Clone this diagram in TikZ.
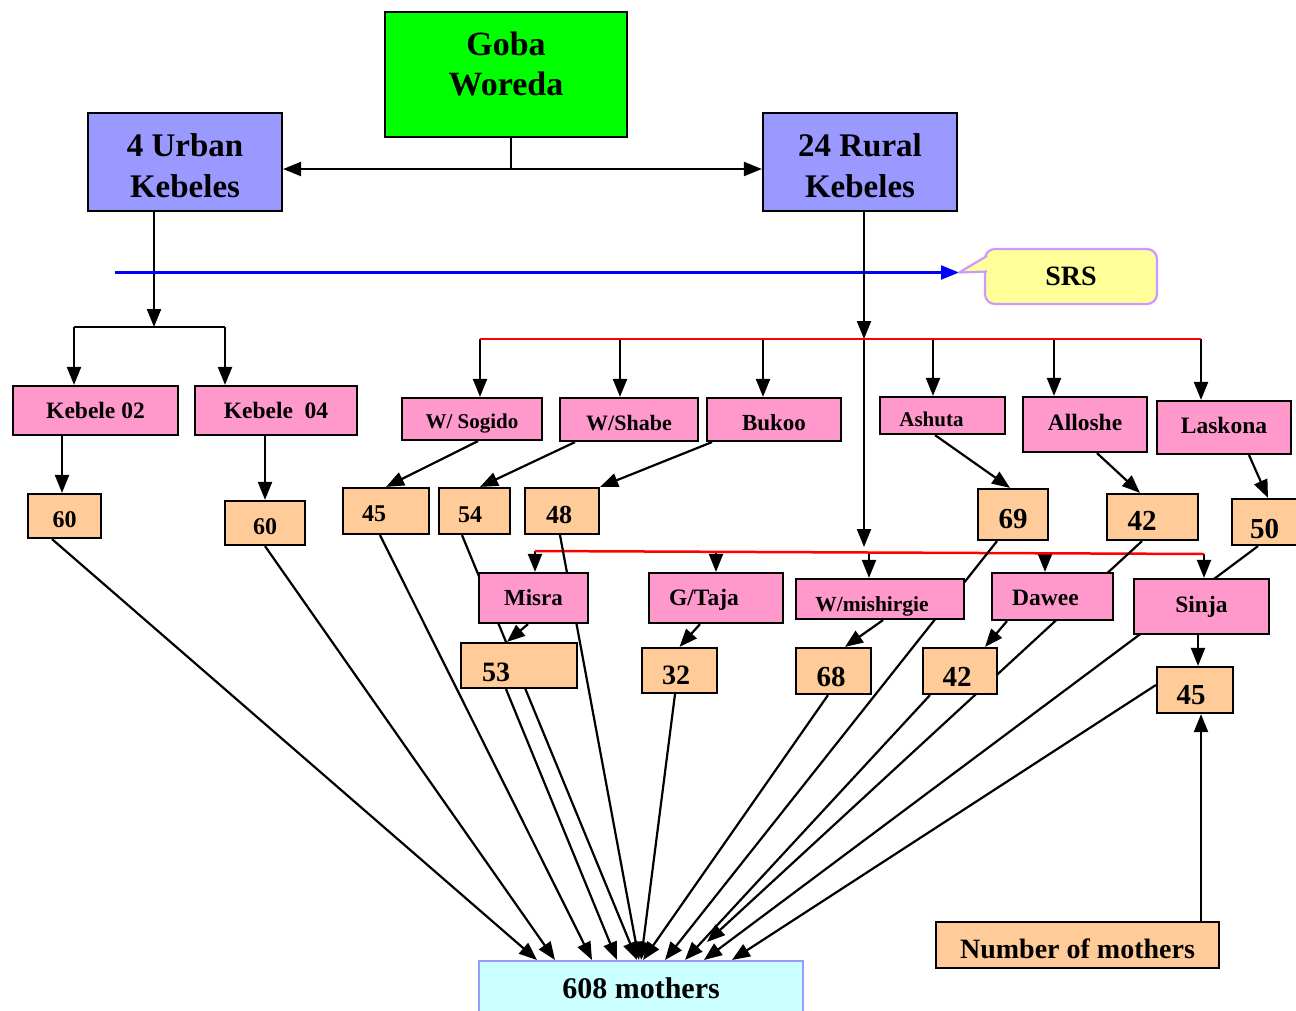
\documentclass[tikz,border=0pt]{standalone}
\usepackage{fontspec}
\setmainfont{Liberation Serif}
\usetikzlibrary{arrows.meta,calc,backgrounds}
\definecolor{pinkf}{HTML}{FF99CC}
\definecolor{peach}{HTML}{FFCC99}
\definecolor{lav}{HTML}{9999FF}
\definecolor{gobagreen}{HTML}{00FF00}
\definecolor{srsfill}{HTML}{FFFF99}
\definecolor{srsline}{HTML}{CC99FF}
\definecolor{cyanf}{HTML}{CCFFFF}
\newcommand\fz[2]{\fontsize{#1pt}{#2pt}\selectfont\bfseries}
\tikzset{
  Tri/.tip={Triangle[length=18pt,width=14pt]},
  box/.style={rectangle, draw=black, line width=2.2pt, inner sep=0pt, text=black},
  pinkbox/.style={box, fill=pinkf},
  numbox/.style={box, fill=peach},
  bluebox/.style={box, fill=lav},
  wh/.style 2 args={minimum width=#1pt, minimum height=#2pt},
  bl/.style 2 args={text height=#1pt, text depth=#2pt},
  ln/.style={draw=black, line width=2.2pt},
  arr/.style={ln, -Tri},
  redln/.style={draw=red, line width=2.5pt},
}
\begin{document}
\begin{tikzpicture}[x=1pt,y=-1pt]
\useasboundingbox (0,0) rectangle (1296,1010);

% ---------- nodes ----------
\node[box, fill=gobagreen, wh={242}{125}, align=center, font=\fz{34}{40}] (goba) at (506,74.5) {Goba\\Woreda\rule[-22pt]{0pt}{22pt}};
\node[bluebox, wh={194}{98}, align=center, font=\fz{33}{41}] (urban) at (185,162) {\rule{0pt}{30pt}4 Urban\\Kebeles};
\node[bluebox, wh={194}{98}, align=center, font=\fz{33}{41}] (rural) at (860,162) {\rule{0pt}{30pt}24 Rural\\Kebeles};
\node[rectangle, draw=srsline, fill=srsfill, line width=2.2pt, rounded corners=10pt, wh={172}{55}, inner sep=0pt, font=\fz{28}{32}, bl={17}{0}] (srs) at (1071,276.5) {SRS};
\coordinate (srstip) at (959,272.5);
\fill[srsfill] (988.5,256) -- (srstip) -- (988.5,271.5) -- cycle;
\draw[srsline, line width=2.2pt, line join=round] (987,256) -- (srstip) -- (987,271.5);

\node[pinkbox, wh={165}{49}, font=\fz{23.5}{28}, bl={15}{0}] (k02) at (95.5,410.5) {Kebele 02};
\node[pinkbox, wh={162}{49}, font=\fz{23.5}{28}, bl={15}{0}] (k04) at (276,410.5) {Kebele\ \ 04};
\node[numbox, wh={73}{44}, font=\fz{24}{28}, bl={22}{0}] (n60a) at (64.5,516) {60};
\node[numbox, wh={80}{44}, font=\fz{24}{28}, bl={22}{0}] (n60b) at (265,523) {60};

\node[pinkbox, wh={140}{42}, font=\fz{21}{25}, bl={18}{0}] (sogido) at (472,419) {W/ Sogido};
\node[pinkbox, wh={138}{43}, font=\fz{22}{26}, bl={21}{0}] (shabe) at (629,419.5) {W/Shabe};
\node[pinkbox, wh={134}{43}, font=\fz{23}{27}, bl={21}{0}] (bukoo) at (774,419.5) {Bukoo};
\node[pinkbox, wh={125}{37}, font=\fz{21}{25}, bl={21}{0}] (ashuta) at (942.5,415.5) {Ashuta\hspace*{22pt}};
\node[pinkbox, wh={124}{55}, font=\fz{23.5}{28}, bl={11}{0}] (alloshe) at (1085,424.5) {Alloshe};
\node[pinkbox, wh={134}{53}, font=\fz{23.5}{28}, bl={11}{0}] (laskona) at (1224,427.5) {Laskona};

\node[numbox, wh={86}{46}, font=\fz{24}{28}, bl={20}{0}] (n45) at (386,511) {45\hspace*{24pt}};
\node[numbox, wh={71}{46}, font=\fz{24}{28}, bl={22}{0}] (n54) at (474.5,511) {54\hspace*{9pt}};
\node[numbox, wh={74}{46}, font=\fz{26}{30}, bl={24}{0}] (n48) at (562,511) {48\hspace*{6pt}};
\node[numbox, wh={70}{51}, font=\fz{29}{33}, bl={27}{0}] (n69) at (1013,514.5) {69};
\node[numbox, wh={91}{46}, font=\fz{29}{33}, bl={26}{0}] (n42a) at (1152.5,517) {42\hspace*{21pt}};
\node[numbox, wh={65}{46}, font=\fz{29}{33}, bl={32}{0}] (n50) at (1264.5,522) {50};

\node[pinkbox, wh={109}{50}, font=\fz{23}{27}, bl={14}{0}] (misra) at (533.5,598) {Misra};
\node[pinkbox, wh={134}{50}, font=\fz{23.5}{28}, bl={14}{0}] (gtaja) at (716,598) {G/Taja\hspace*{24pt}};
\node[pinkbox, wh={168}{40}, font=\fz{21.5}{26}, bl={24}{0}] (wmish) at (880,599) {W/mishirgie\hspace*{16pt}};
\node[pinkbox, wh={121}{47}, font=\fz{23.5}{28}, bl={17}{0}] (dawee) at (1052.5,596.5) {Dawee\hspace*{14pt}};
\node[pinkbox, wh={135}{55}, font=\fz{23.5}{28}, bl={11}{0}] (sinja) at (1201.5,606.5) {Sinja};

\node[numbox, wh={116}{45}, font=\fz{28}{32}, bl={31}{0}] (n53) at (519,665.5) {53\hspace*{46pt}};
\node[numbox, wh={75}{45}, font=\fz{28}{32}, bl={27}{0}] (n32) at (679.5,670.5) {32\hspace*{7pt}};
\node[numbox, wh={75}{46}, font=\fz{29}{33}, bl={30}{0}] (n68) at (833.5,671) {68\hspace*{5pt}};
\node[numbox, wh={74}{46}, font=\fz{29}{33}, bl={30}{0}] (n42b) at (960,671) {42\hspace*{6pt}};
\node[numbox, wh={76}{46}, font=\fz{29}{33}, bl={28}{0}] (n45b) at (1195,690) {45\hspace*{8pt}};

\node[numbox, wh={283}{46}, font=\fz{28}{32}, bl={26}{0}] (nmoth) at (1077.5,945) {Number of mothers};
\node[box, draw=lav, fill=cyanf, line width=2pt, wh={324}{69}, font=\fz{30}{34}, bl={5}{0}] (total) at (641,995.5) {608 mothers};

% ---------- connectors (behind the boxes) ----------
\begin{pgfonlayer}{background}
\fill[white] (0,0) rectangle (1296,1010);

\coordinate (gj) at (511,169);
\draw[ln] (goba.south -| gj) -- (gj);
\draw[ln, Tri-Tri] (urban.east |- gj) -- (rural.west |- gj);

\coordinate (ub) at (154,327);
\coordinate (kbl) at (74,327);
\coordinate (kbr) at (225,327);
\draw[arr] (urban.south -| ub) -- (ub);
\draw[ln] (kbl) -- (kbr);
\draw[arr] (kbl) -- (kbl |- k02.north);
\draw[arr] (kbr) -- (kbr |- k04.north);

\coordinate (bs) at (115,272.5);
\draw[draw=blue, line width=2.2pt, -Tri] (bs) -- (srstip);

\coordinate (rj) at (864,339);
\coordinate (rk) at (864,547);
\draw[arr] (rural.south -| rj) -- (rj);
\draw[arr] (rj) -- (rk);

\coordinate (s1) at (480,339);
\coordinate (s2) at (620,339);
\coordinate (s3) at (763,339);
\coordinate (s4) at (933,339);
\coordinate (s5) at (1054,339);
\coordinate (s6) at (1201,339);
\draw[arr] (s1) -- (s1 |- sogido.north);
\draw[arr] (s2) -- (s2 |- shabe.north);
\draw[arr] (s3) -- (s3 |- bukoo.north);
\draw[arr] (s4) -- (s4 |- ashuta.north);
\draw[arr] (s5) -- (s5 |- alloshe.north);
\draw[arr] (s6) -- (s6 |- laskona.north);
\draw[redln] (s1) -- (s6);

\draw[arr] ($(k02.south)+(-33.5,0)$) -- ($(n60a.north)+(-2.5,0)$);
\draw[arr] ($(k04.south)+(-11,0)$) -- (n60b.north);

\draw[arr] ($(sogido.south)+(6,0)$) -- (n45.north);
\draw[arr] ($(shabe.south)+(-54,0)$) -- ($(n54.north)+(5.5,0)$);
\draw[arr] ($(bukoo.south)+(-62,0)$) -- (n48.north east);
\draw[arr] ($(ashuta.south)+(-7.5,0)$) -- ($(n69.north)+(-3,0)$);
\draw[arr] ($(alloshe.south)+(12,0)$) -- ($(n42a.north)+(-12.5,0)$);
\draw[arr] ($(laskona.south)+(25,0)$) -- ($(n50.north)+(3.5,0)$);

\coordinate (t1) at (535,551);
\coordinate (t2) at (716,551.8);
\coordinate (t3) at (869,552.5);
\coordinate (t4) at (1045,553.3);
\coordinate (t5) at (1204,554);
\draw[arr] (t1) -- (t1 |- misra.north);
\draw[arr] (t2) -- (t2 |- gtaja.north);
\draw[arr] (t3) -- (t3 |- wmish.north);
\draw[arr] (t4) -- (t4 |- dawee.north);
\draw[arr] (t5) -- (t5 |- sinja.north);
\draw[redln] (t1) -- (t5);

\draw[arr] ($(misra.south)+(-5.5,0)$) -- ($(n53.north)+(-12,0)$);
\draw[arr] ($(gtaja.south)+(-16,0)$) -- (n32.north);
\draw[arr] ($(wmish.south)+(3,0)$) -- ($(n68.north)+(11.5,0)$);
\draw[arr] ($(dawee.south)+(-45.5,0)$) -- ($(n42b.north)+(25,0)$);
\draw[arr] ($(sinja.south)+(-3.5,0)$) -- ($(n45b.north)+(3,0)$);
\draw[arr] ($(nmoth.north)+(123.5,0)$) -- ($(n45b.south)+(6,0)$);

% lines to 608 mothers
\draw[arr] ($(n60a.south)+(-12.5,0)$) -- ($(total.north)+(-104,0)$);
\draw[arr] (n60b.south) -- ($(total.north)+(-86,0)$);
\draw[arr] ($(n45.south)+(-6,0)$) -- ($(total.north)+(-49,0)$);
\draw[arr] ($(n54.south)+(-12.5,0)$) -- ($(total.north)+(-4,0)$);
\draw[arr] ($(n48.south)+(-2,0)$) -- ($(total.north)+(-2,0)$);
\draw[arr] ($(n53.south)+(-13,0)$) -- ($(total.north)+(-24,0)$);
\draw[arr] ($(n32.south)+(-4.5,0)$) -- (total.north);
\draw[arr] ($(n68.south)+(-5.5,0)$) -- ($(total.north)+(2,0)$);
\draw[arr] ($(n69.south)+(-16,0)$) -- ($(total.north)+(24,0)$);
\draw[arr] ($(n42b.south)+(-30,0)$) -- ($(total.north)+(44,0)$);
\coordinate (kend) at ($(total.north)+(66,-18)$);
\draw[arr] ($(n42a.south)+(-10.5,0)$) -- (kend);
\draw[arr] ($(n50.south)+(-6.5,0)$) -- ($(total.north)+(63,0)$);
\draw[arr] ($(n45b.west)+(0,-5)$) -- ($(total.north)+(91,0)$);
\end{pgfonlayer}
\end{tikzpicture}
\end{document}
